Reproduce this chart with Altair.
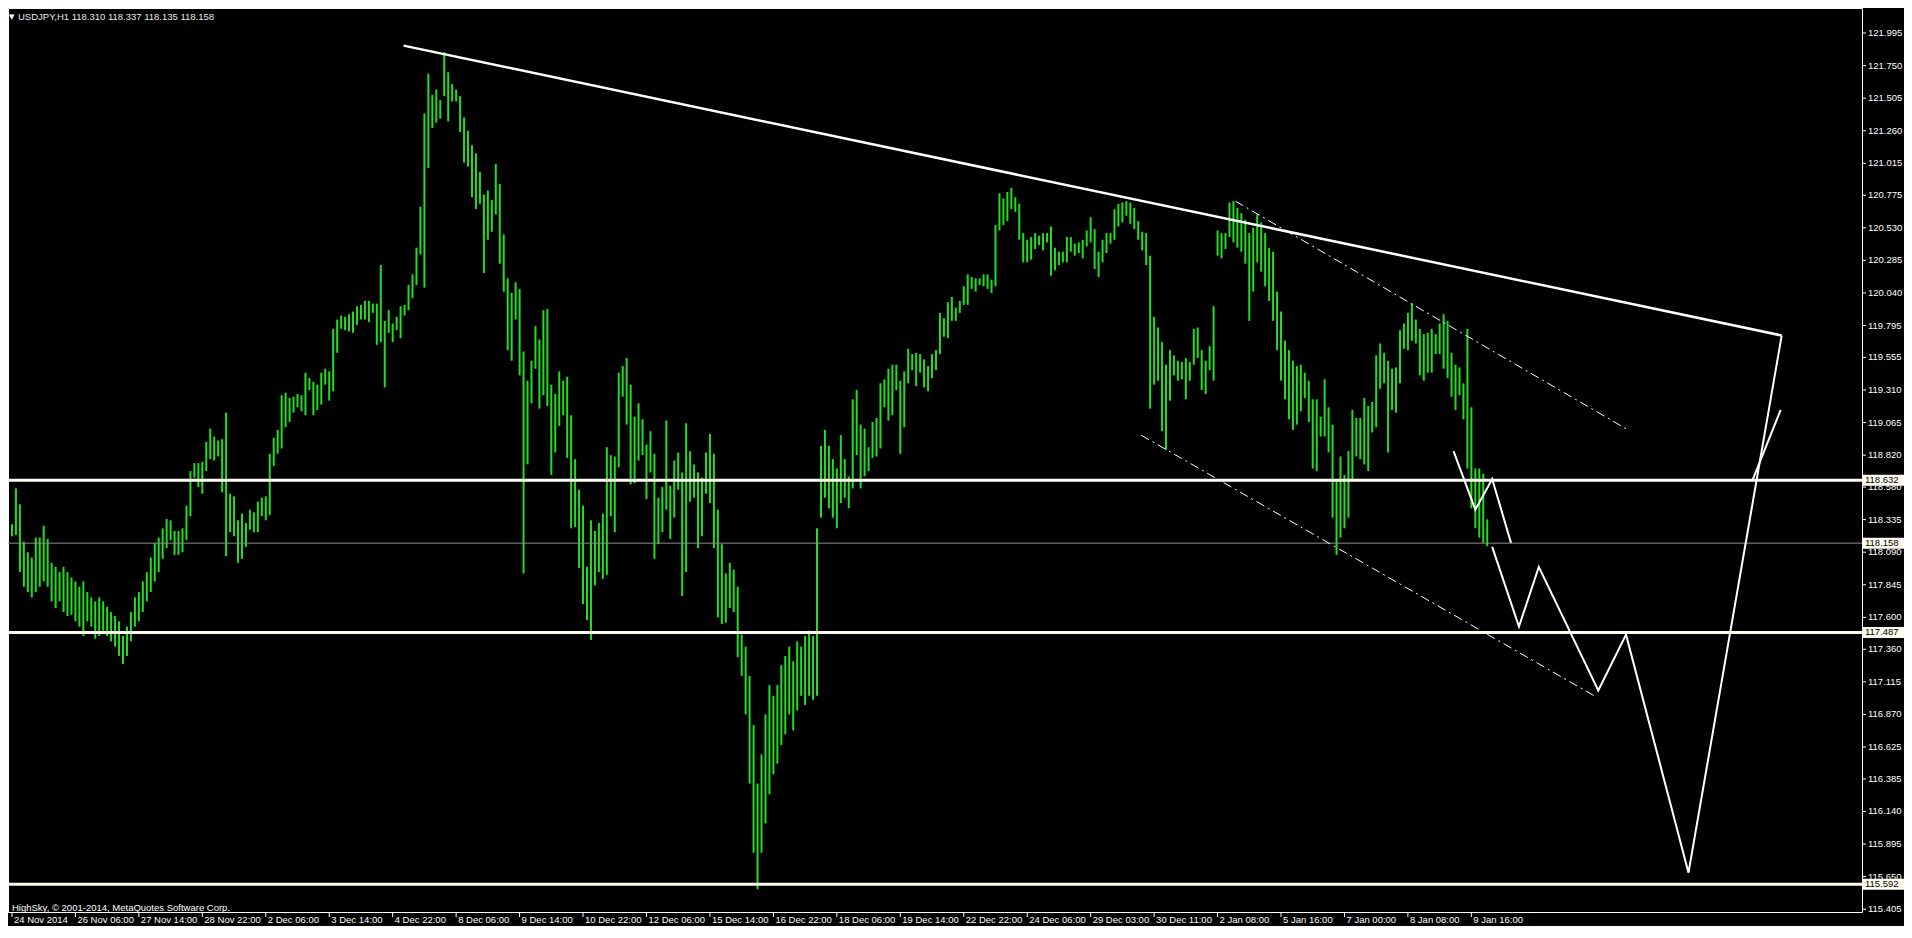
import altair as alt
import pandas as pd

# ---------------- data ----------------
symbol = "USDJPY,H1"
last_ohlc = ["118.310", "118.337", "118.135", "118.158"]
copyright_text = "HighSky, \u00a9 2001-2014, MetaQuotes Software Corp."

# one entry per two H1 bars (bar index k)
highs = [
118.30,118.57,118.45,118.17,118.09,118.05,118.20,118.20,118.29,118.19,
118.01,117.98,117.94,117.98,117.94,117.90,117.87,117.83,117.87,117.79,
117.75,117.72,117.75,117.72,117.68,117.64,117.61,117.57,117.46,117.53,
117.64,117.75,117.79,117.87,117.94,118.05,118.16,118.20,118.27,118.34,
118.33,118.25,118.25,118.27,118.44,118.70,118.76,118.76,118.77,118.92,
119.02,118.96,118.93,118.94,119.14,118.53,118.51,118.33,118.38,118.31,
118.41,118.39,118.47,118.50,118.51,118.83,118.95,119.01,119.27,119.29,
119.25,119.26,119.28,119.27,119.44,119.40,119.37,119.35,119.44,119.47,
119.45,119.77,119.84,119.87,119.86,119.88,119.90,119.94,119.95,119.98,
119.98,119.96,119.96,120.25,119.83,119.91,119.81,119.86,119.94,119.95,
120.10,120.18,120.38,120.69,121.39,121.69,121.53,121.57,121.49,121.85,
121.70,121.61,121.57,121.52,121.36,121.26,121.15,121.09,120.95,120.78,
120.81,120.74,121.01,120.86,120.48,120.15,120.04,120.12,120.07,119.60,
119.38,119.53,119.79,119.69,119.91,119.92,119.35,119.28,119.45,119.38,
119.41,119.12,118.79,118.56,118.44,117.98,118.33,118.25,118.31,118.38,
118.88,118.82,118.81,119.44,119.49,119.55,119.35,119.11,119.21,119.09,
118.90,119.00,118.83,118.50,118.58,119.08,118.59,118.78,118.84,118.69,
119.06,118.85,118.75,118.69,118.65,118.84,118.98,118.83,118.41,118.15,
117.93,118.01,117.96,117.83,117.47,117.38,117.16,116.79,116.35,116.57,
116.87,117.09,117.01,117.09,117.24,117.31,117.38,117.27,117.42,117.38,
117.46,117.50,117.46,118.27,118.89,119.01,118.89,118.79,118.72,118.97,
118.79,118.66,119.24,119.31,119.05,119.02,118.88,119.07,119.10,119.36,
119.39,119.47,119.50,119.50,119.38,119.45,119.62,119.58,119.59,119.58,
119.54,119.49,119.58,119.61,119.89,119.85,119.97,120.01,119.93,119.98,
120.09,120.18,120.16,120.15,120.15,120.18,120.18,120.14,120.55,120.79,
120.75,120.80,120.83,120.76,120.71,120.49,120.44,120.46,120.49,120.47,
120.49,120.49,120.54,120.38,120.35,120.35,120.46,120.46,120.41,120.42,
120.44,120.51,120.61,120.52,120.35,120.44,120.49,120.49,120.67,120.71,
120.72,120.73,120.72,120.68,120.58,120.50,120.49,120.32,119.86,119.78,
119.67,119.50,119.61,119.57,119.53,119.52,119.55,119.52,119.77,119.78,
119.61,119.53,119.64,119.94,120.51,120.49,120.49,120.72,120.73,120.68,
120.64,120.59,120.49,120.53,120.63,120.57,120.49,120.38,120.35,120.05,
119.90,119.68,119.61,119.53,119.49,119.50,119.44,119.38,119.24,119.24,
119.11,119.39,119.18,119.05,118.64,118.81,118.67,118.85,119.16,119.10,
119.10,119.25,119.19,119.22,119.57,119.66,119.59,119.53,119.47,119.48,
119.76,119.81,119.89,119.96,119.84,119.77,119.73,119.74,119.77,119.73,
119.81,119.88,119.83,119.59,119.50,119.48,119.36,119.77,119.18,118.72,
118.72,118.68,118.337]

lows = [
118.21,118.22,117.94,117.83,117.79,117.75,117.79,117.83,117.87,117.83,
117.72,117.67,117.72,117.64,117.61,117.62,117.57,117.53,117.46,117.57,
117.53,117.44,117.46,117.50,117.46,117.42,117.38,117.31,117.25,117.31,
117.42,117.53,117.57,117.64,117.72,117.79,117.87,117.94,118.04,118.12,
118.18,118.07,118.07,118.09,118.18,118.36,118.65,118.58,118.53,118.70,
118.79,118.78,118.81,118.54,118.06,118.24,118.21,118.01,118.04,118.13,
118.26,118.24,118.24,118.36,118.33,118.37,118.74,118.83,118.87,119.03,
119.07,119.14,119.18,119.15,119.12,119.31,119.12,119.16,119.20,119.35,
119.23,119.30,119.59,119.77,119.76,119.75,119.74,119.80,119.84,119.84,
119.82,119.89,119.65,119.67,119.33,119.74,119.67,119.76,119.70,119.87,
119.91,120.00,120.10,120.33,120.08,120.98,121.28,121.32,121.35,121.52,
121.33,121.48,121.48,121.25,121.02,120.99,120.76,120.67,120.71,120.19,
120.44,120.50,120.63,120.26,120.05,119.61,119.53,119.84,119.42,117.93,
118.75,119.21,119.47,119.17,119.27,119.19,118.67,118.84,119.04,119.12,
118.80,118.27,118.28,117.97,117.70,117.58,117.43,117.84,117.94,117.89,
117.92,118.36,118.24,118.73,119.26,119.05,118.60,118.61,118.78,118.82,
118.49,118.69,118.04,118.15,118.24,118.41,118.19,118.35,118.56,117.76,
117.94,118.47,118.50,118.12,118.21,118.53,118.46,118.12,117.60,117.55,
117.56,117.67,117.64,117.30,117.16,116.87,116.35,115.83,115.555,115.83,
116.05,116.27,116.42,116.50,116.64,116.72,116.87,116.75,116.90,117.01,
116.94,117.01,116.98,117.01,118.35,118.50,118.42,118.35,118.27,118.46,
118.50,118.42,118.57,118.82,118.57,118.66,118.70,118.80,118.81,118.87,
119.18,119.08,119.12,119.31,118.83,119.03,119.36,119.46,119.34,119.44,
119.33,119.30,119.40,119.46,119.58,119.71,119.70,119.83,119.83,119.89,
119.95,119.95,120.07,120.05,120.10,120.09,120.07,120.04,120.09,120.51,
120.55,120.58,120.67,120.65,120.44,120.27,120.27,120.29,120.37,120.40,
120.36,120.42,120.17,120.21,120.25,120.27,120.27,120.35,120.32,120.34,
120.30,120.39,120.42,120.22,120.16,120.27,120.34,120.41,120.44,120.54,
120.57,120.62,120.56,120.52,120.44,120.36,120.25,119.17,119.35,119.38,
119.00,118.86,119.23,119.42,119.38,119.39,119.24,119.38,119.50,119.55,
119.31,119.28,119.46,119.38,120.32,120.30,120.37,120.46,120.42,120.38,
120.35,120.26,119.83,120.05,120.27,120.20,120.09,119.98,119.83,119.61,
119.38,119.24,119.09,119.01,119.05,119.15,119.25,119.07,118.72,118.70,
118.96,118.96,118.84,118.35,118.07,118.20,118.27,118.35,118.64,118.81,
118.79,118.75,118.70,118.99,119.03,119.32,119.36,118.84,119.16,119.14,
119.36,119.62,119.61,119.68,119.66,119.42,119.38,119.44,119.44,119.58,
119.58,119.47,119.40,119.26,119.16,119.27,119.09,118.72,118.42,118.27,
118.20,118.16,118.135]

date_labels = ["24 Nov 2014", "26 Nov 06:00", "27 Nov 14:00", "28 Nov 22:00",
               "2 Dec 06:00", "3 Dec 14:00", "4 Dec 22:00", "8 Dec 06:00",
               "9 Dec 14:00", "10 Dec 22:00", "12 Dec 06:00", "15 Dec 14:00",
               "16 Dec 22:00", "18 Dec 06:00", "19 Dec 14:00", "22 Dec 22:00",
               "24 Dec 06:00", "29 Dec 03:00", "30 Dec 11:00", "2 Jan 08:00",
               "5 Jan 16:00", "7 Jan 00:00", "8 Jan 08:00", "9 Jan 16:00"]
label_step = 16  # bar indices between time labels

price_ticks = [121.995, 121.750, 121.505, 121.260, 121.015, 120.775, 120.530,
               120.285, 120.040, 119.795, 119.555, 119.310, 119.065, 118.820,
               118.580, 118.335, 118.090, 117.845, 117.600, 117.360, 117.115,
               116.870, 116.625, 116.385, 116.140, 115.895, 115.650, 115.405]

level_prices = [118.632, 117.487, 115.592]
bid_price = 118.158

# drawn objects (bar index, price)
trend_k = [98.75, 446.25]
trend_p = [121.90, 119.72]
chan_up_k = [308.5, 407.5]
chan_up_p = [120.73, 119.01]
chan_lo_k = [284.75, 399.0]
chan_lo_p = [118.97, 117.01]
zigA_k = [363.5, 369.0, 373.25, 378.0]
zigA_p = [118.85, 118.41, 118.64, 118.16]
zigB_k = [373.25, 380.0, 385.0, 400.0, 407.0, 422.75, 446.25]
zigB_p = [118.13, 117.53, 117.98, 117.05, 117.47, 115.68, 119.72]
zigC_k = [439.0, 446.0]
zigC_p = [118.64, 119.16]

# ---------------- styling ----------------
W, H = 1854, 904
GREEN = "#22DD22"
IVORY = "#FFFDF0"
FONT = "Liberation Sans"
FS = 9.5

xs = alt.Scale(domain=[-1, 466.5], nice=False, zero=False)
ys = alt.Scale(domain=[115.384, 122.183], nice=False, zero=False)


def X(field):
    return alt.X(field, scale=xs, axis=None)


def Y(field):
    return alt.Y(field, scale=ys, axis=None)


bars = pd.DataFrame({"k": list(range(len(highs))), "high": highs, "low": lows})
bar_layer = alt.Chart(bars).mark_rule(color=GREEN, strokeWidth=2).encode(
    x=X("k:Q"), y=Y("high:Q"), y2="low:Q")

# right price scale drawn as marks
pt_df = pd.DataFrame({"price": price_ticks})
pt_df["txt"] = pt_df["price"].map(lambda v: "%.3f" % v)
ptick_layer = alt.Chart(pt_df).mark_rule(color="white", strokeWidth=1).encode(
    x=alt.value(W), x2=alt.value(W + 4), y=Y("price:Q"))
plabel_layer = alt.Chart(pt_df).mark_text(
    align="left", baseline="middle", color="white", font=FONT,
    fontSize=FS).encode(x=alt.value(W + 6), y=Y("price:Q"), text="txt:N")

# bottom time scale drawn as marks
tl_df = pd.DataFrame({"k": [label_step * j for j in range(len(date_labels))],
                      "txt": date_labels})
ttick_layer = alt.Chart(tl_df).mark_rule(color="white", strokeWidth=1).encode(
    x=X("k:Q"), y=alt.value(H), y2=alt.value(H + 5))
tlabel_layer = alt.Chart(tl_df).mark_text(
    align="left", baseline="top", color="white", font=FONT, fontSize=FS,
    dx=2).encode(x=X("k:Q"), y=alt.value(H + 3), text="txt:N")

levels_df = pd.DataFrame({"price": level_prices})
level_layer = alt.Chart(levels_df).mark_rule(color=IVORY, strokeWidth=3).encode(
    y=Y("price:Q"))

bid_layer = alt.Chart(pd.DataFrame({"price": [bid_price]})).mark_rule(
    color="#8c8c8c", strokeWidth=1).encode(y=Y("price:Q"))

trend_df = pd.DataFrame({"k": trend_k, "p": trend_p})
trend_layer = alt.Chart(trend_df).mark_line(color="white", strokeWidth=2.5).encode(
    x=X("k:Q"), y=Y("p:Q"))

chan_df = pd.concat([
    pd.DataFrame({"k": chan_up_k, "p": chan_up_p, "name": "up"}),
    pd.DataFrame({"k": chan_lo_k, "p": chan_lo_p, "name": "lo"}),
])
chan_layer = alt.Chart(chan_df).mark_line(
    color="white", strokeWidth=1, strokeDash=[9, 4, 2, 4]).encode(
    x=X("k:Q"), y=Y("p:Q"), detail="name:N")

zig_df = pd.concat([
    pd.DataFrame({"k": zigA_k, "p": zigA_p, "name": "A", "i": range(len(zigA_k))}),
    pd.DataFrame({"k": zigB_k, "p": zigB_p, "name": "B", "i": range(len(zigB_k))}),
    pd.DataFrame({"k": zigC_k, "p": zigC_p, "name": "C", "i": range(len(zigC_k))}),
])
zig_layer = alt.Chart(zig_df).mark_line(color="white", strokeWidth=2).encode(
    x=X("k:Q"), y=Y("p:Q"), detail="name:N", order="i:Q")

box_df = pd.DataFrame({"price": level_prices + [bid_price]})
box_df["txt"] = box_df["price"].map(lambda v: "%.3f" % v)
box_shape = "M-1,-0.262L1,-0.262L1,0.262L-1,0.262Z"
box_layer = alt.Chart(box_df).mark_point(
    shape=box_shape, size=1764, filled=True, color=IVORY, opacity=1,
    strokeWidth=0).encode(x=alt.value(W + 21), y=Y("price:Q"))
box_text = alt.Chart(box_df).mark_text(
    align="left", baseline="middle", color="black", font=FONT,
    fontSize=FS).encode(x=alt.value(W + 3), y=Y("price:Q"), text="txt:N")

header_df = pd.DataFrame({"t": [symbol + "  " + " ".join(last_ohlc)]})
header = alt.Chart(header_df).mark_text(
    align="left", baseline="middle", color="#E8E8E8", font=FONT,
    fontSize=FS).encode(x=alt.value(10), y=alt.value(9), text="t:N")
tri = alt.Chart(pd.DataFrame({"t": ["\u25bc"]})).mark_text(
    align="left", baseline="middle", color="white", font="DejaVu Sans",
    fontSize=7).encode(x=alt.value(1), y=alt.value(9), text="t:N")

copy_df = pd.DataFrame({"t": [copyright_text]})
copy_layer = alt.Chart(copy_df).mark_text(
    align="left", baseline="middle", color="white", font=FONT,
    fontSize=FS).encode(x=alt.value(4), y=alt.value(H - 4), text="t:N")

chart = alt.layer(
    bar_layer, bid_layer, level_layer, trend_layer, chan_layer, zig_layer,
    ptick_layer, plabel_layer, ttick_layer, tlabel_layer,
    box_layer, box_text, header, tri, copy_layer,
).properties(
    width=W, height=H,
    autosize=alt.AutoSizeParams(type="none"),
    padding={"left": 0, "top": 0, "right": 42, "bottom": 14},
    background="black",
).configure_view(stroke="white", strokeWidth=1)

chart.save("out.html", embed_options={"renderer": "svg", "actions": False})
